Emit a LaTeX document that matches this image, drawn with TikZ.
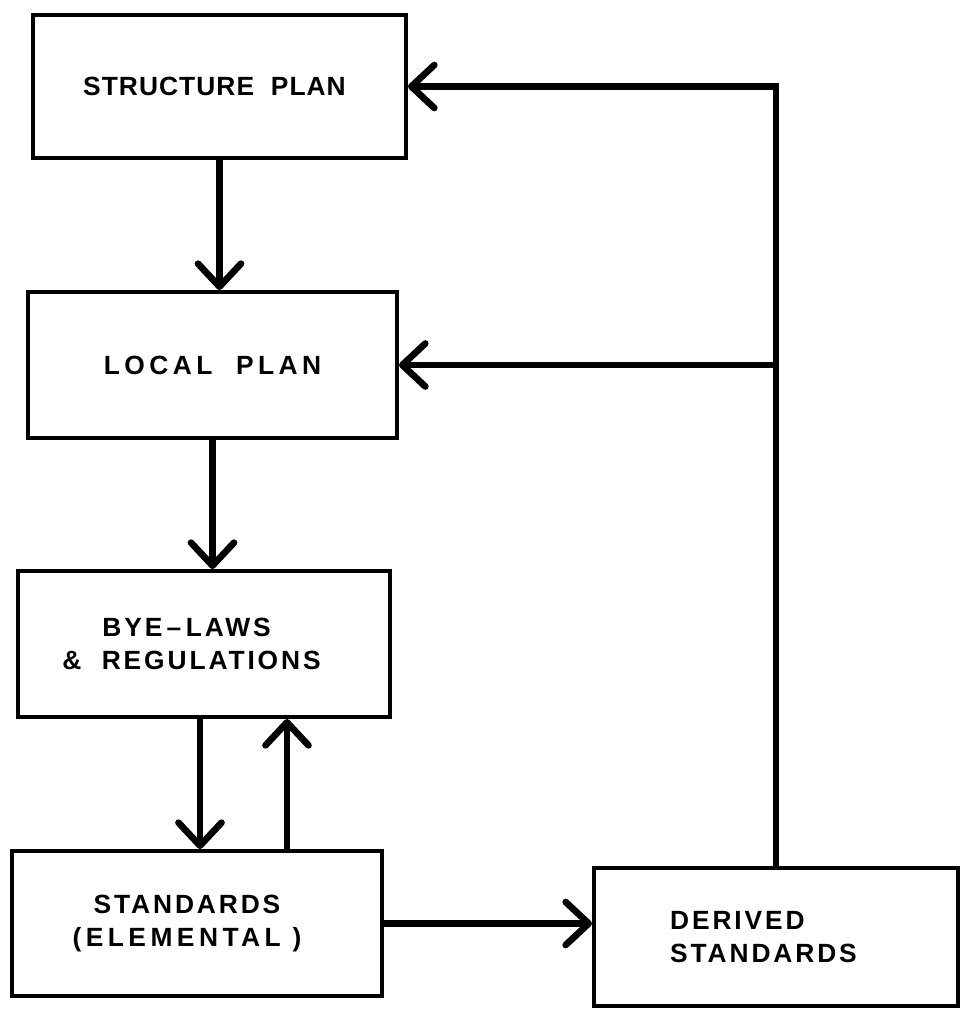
\documentclass[tikz,border=0pt]{standalone}
\usepackage{fontspec}
\usepackage{tikz}
\usetikzlibrary{arrows.meta, calc, positioning}

\newfontfamily\tightcaps{Liberation Sans}[LetterSpace=4]
\newfontfamily\midcaps{Liberation Sans}[LetterSpace=11]
\newfontfamily\widecaps{Liberation Sans}[LetterSpace=17]

\begin{document}
\begin{tikzpicture}[x=0.02cm, y=-0.02cm, >={Straight Barb[length=4.6mm, width=8.6mm, round]}]
	\tikzstyle{block} = [draw, line width=2.3pt, rectangle, minimum width=7.4cm, minimum height=2.9cm, inner sep=0pt, font=\bfseries\fontsize{15}{19}\selectfont]
	\tikzstyle{conn} = [->, line width=3.8pt]

	\useasboundingbox (0,0) rectangle (962,1018);

	% boxes
	\node[block, minimum width=7.46cm, minimum height=2.86cm] (sp) at (219.5,86.5) {\tightcaps STRUCTURE~~PLAN\hspace*{0.2cm}};
	\node[block, minimum width=7.38cm, minimum height=2.92cm] (lp) at (212.5,365) {\widecaps LOCAL~~PLAN};
	\node[block, minimum width=7.44cm, minimum height=2.92cm, align=center] (bl) at (204,644) {\midcaps BYE\,–\,LAWS\hspace*{0.7cm}\\ \midcaps \&~~REGULATIONS\hspace*{0.5cm}};
	\node[block, minimum width=7.4cm, minimum height=2.9cm, align=center] (st) at (197,923.5) {\midcaps STANDARDS\hspace*{0.4cm}\\ \widecaps (ELEMENTAL~)\hspace*{0.4cm}};
	\node[block, minimum width=7.28cm, minimum height=2.76cm, align=left] (ds) at (776,937) {\midcaps DERIVED\\ \midcaps STANDARDS\hspace*{0.5cm}};

	% connectors
	\draw[conn] (sp.south) -- (sp.south |- lp.north);
	\draw[conn] (lp.south) -- (lp.south |- bl.north);
	\draw[conn] ([xshift=-0.08cm]bl.south) -- ([xshift=-0.08cm]bl.south |- st.north);
	\draw[conn] ([xshift=1.8cm]st.north) -- ([xshift=1.8cm]st.north |- bl.south);
	\draw[conn] (st.east) -- (st.east -| ds.west);
	\draw[conn] (ds.north) |- (sp.east);
	\draw[conn] (ds.north |- lp.east) -- (lp.east);
\end{tikzpicture}
\end{document}
